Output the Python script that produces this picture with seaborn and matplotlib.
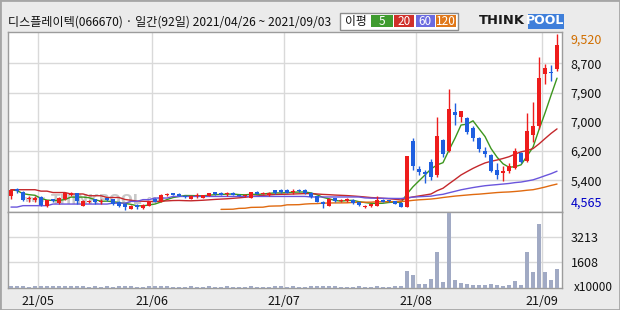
import numpy as np
import pandas as pd
import matplotlib
matplotlib.use("Agg")
import matplotlib.pyplot as plt
from matplotlib.patches import Rectangle
from matplotlib.transforms import blended_transform_factory
import seaborn as sns

sns.set_theme(style="white")
plt.rcParams['font.family'] = ['Noto Sans CJK KR', 'DejaVu Sans']
plt.rcParams['axes.unicode_minus'] = False

# ---------------- data ----------------
title = "디스플레이텍(066670) · 일간(92일) 2021/04/26 ~ 2021/09/03"
month_labels = ["21/05", "21/06", "21/07", "21/08", "21/09"]
month_first_day = [5, 24, 46, 68, 89]
ma_names = ["5", "20", "60", "120"]

opens = [
    4935, 5145, 5055, 4855, 4835, 4915, 4665, 4855, 4745, 4855,
    4985, 5025, 4675, 4765, 4855, 4785, 4885, 4855, 4785, 4715,
    4585, 4685, 4605, 4675, 4865, 4785, 4965, 5030, 5005, 4945,
    4875, 4945, 4895, 4955, 5055, 5045, 4995, 5035, 4985, 4935,
    4895, 5055, 5015, 4965, 5105, 5125, 5115, 5065, 5125, 5125,
    5045, 4935, 4785, 4675, 4895, 4805, 4795, 4845, 4775, 4635,
    4665, 4675, 4845, 4825, 4795, 4755, 4645, 6500, 5705, 5635,
    5905, 5540, 6530, 6220, 7320, 7185, 7140, 6870, 6585, 6225,
    6095, 5680, 5605, 5660, 5745, 6155, 5945, 6670, 6925, 8400,
    8445, 8525]
highs = [
    5135, 5175, 5085, 4935, 4935, 4955, 4845, 4875, 4915, 5065,
    5065, 5035, 4845, 4825, 4875, 4865, 4905, 4875, 4805, 4745,
    4705, 4715, 4715, 4815, 4895, 4995, 5025, 5045, 5025, 4965,
    4975, 5025, 4975, 5045, 5065, 5055, 5055, 5055, 5005, 5005,
    5065, 5075, 5065, 5055, 5125, 5145, 5135, 5155, 5145, 5135,
    5055, 4945, 4795, 4885, 4905, 4875, 4885, 4855, 4785, 4685,
    4735, 4955, 4865, 4845, 4815, 4775, 6090, 6595, 5795, 5675,
    6000, 7180, 6570, 7960, 7585, 7355, 7190, 6925, 6610, 6320,
    6140, 5870, 5795, 5870, 6310, 6190, 7295, 7600, 8880, 8675,
    8655, 9520]
lows = [
    4875, 5035, 4805, 4785, 4785, 4665, 4625, 4765, 4735, 4845,
    4945, 4725, 4665, 4745, 4725, 4735, 4815, 4705, 4645, 4565,
    4570, 4575, 4575, 4665, 4765, 4775, 4935, 4965, 4935, 4905,
    4865, 4905, 4885, 4945, 4985, 4975, 4945, 4965, 4935, 4925,
    4885, 4995, 4995, 4955, 5015, 5045, 5035, 5005, 5065, 5015,
    4905, 4765, 4615, 4665, 4785, 4775, 4785, 4735, 4665, 4615,
    4645, 4665, 4765, 4765, 4715, 4625, 4630, 5680, 5545, 5320,
    5400, 5475, 6055, 6190, 6955, 7045, 6700, 6500, 6190, 6040,
    5635, 5435, 5380, 5605, 5715, 5890, 5905, 6480, 6830, 8100,
    8195, 8475]
closes = [
    5125, 5075, 4845, 4895, 4900, 4695, 4825, 4795, 4895, 5035,
    5035, 4815, 4805, 4805, 4765, 4805, 4835, 4725, 4675, 4645,
    4675, 4645, 4705, 4805, 4775, 4965, 4985, 4985, 4955, 4915,
    4955, 4975, 4965, 5030, 5005, 4985, 5015, 4985, 4945, 4975,
    5055, 5005, 5035, 5045, 5030, 5055, 5045, 5095, 5075, 5035,
    4925, 4785, 4725, 4875, 4795, 4835, 4865, 4755, 4685, 4675,
    4725, 4845, 4785, 4795, 4735, 4645, 6075, 5795, 5625, 5565,
    5495, 6640, 6120, 7405, 7235, 7355, 6765, 6595, 6285, 6135,
    5660, 5550, 5655, 5795, 6220, 5915, 6785, 6915, 8280, 8555,
    8415, 9210]
# volume in units of 10000 shares
volumes = [
    75, 68, 82, 62, 66, 78, 70, 64, 67, 80,
    72, 77, 64, 60, 66, 61, 70, 63, 68, 75,
    66, 60, 62, 70, 64, 78, 67, 62, 58, 62,
    65, 60, 61, 68, 59, 57, 64, 60, 58, 62,
    71, 60, 59, 63, 66, 68, 61, 64, 60, 62,
    67, 73, 78, 70, 64, 60, 62, 60, 65, 61,
    59, 66, 63, 60, 72, 80, 1042, 781, 195, 195,
    521, 2279, 326, 4750, 456, 260, 195, 130, 130, 130,
    195, 130, 65, 130, 391, 130, 2279, 977, 4036, 977,
    456, 1172]
# moving-average values read where the window reaches before the shown period
ma20_head = [5125, 5125, 5125, 5125, 5125, 5085, 5085, 5045, 5045, 5045,
             5005, 5005, 5005, 4955, 4955, 4955, 4905, 4905, 4905]
ma60_head = [4635, 4635, 4675, 4675, 4675, 4675, 4675, 4720, 4720, 4720,
             4720, 4720, 4720, 4720, 4720, 4720, 4720, 4745, 4745, 4745,
             4795, 4795, 4845, 4845, 4890, 4890, 4890, 4935, 4935, 4935,
             4935, 4935, 4935, 4935, 4935, 4935, 4935, 4935, 4935, 4935,
             4935, 4935, 4935, 4935, 4935, 4935, 4935, 4935, 4935, 4935,
             4920, 4920, 4920, 4920, 4920, 4920, 4920, 4920, 4920]
ma120_start = 35
ma120_vals = [4570, 4572, 4575, 4598, 4602, 4626, 4629, 4632, 4660, 4665,
              4668, 4698, 4700, 4703, 4720, 4730, 4733, 4745, 4750, 4752,
              4753, 4755, 4765, 4770, 4772, 4774, 4785, 4787, 4788, 4789,
              4790, 4805, 4825, 4840, 4850, 4862, 4880, 4905, 4925, 4945,
              4960, 4975, 4990, 5000, 5015, 5030, 5045, 5055, 5062, 5075,
              5090, 5110, 5125, 5160, 5200, 5245, 5285]
vol_tick_vals = [1608, 3213]

# ---------------- derived ----------------
n = len(closes)
df = pd.DataFrame({"i": np.arange(n), "open": opens, "high": highs,
                   "low": lows, "close": closes, "volume": volumes})
df["ma5"] = df["close"].rolling(5, min_periods=1).mean()
ma20 = df["close"].rolling(20).mean().to_numpy()
ma20[:len(ma20_head)] = ma20_head
df["ma20"] = ma20
ma60 = df["close"].rolling(60).mean().to_numpy()
ma60[:len(ma60_head)] = ma60_head
df["ma60"] = ma60
df120 = pd.DataFrame({"i": np.arange(ma120_start, ma120_start + len(ma120_vals)),
                      "ma120": ma120_vals})

pmin, pmax = min(lows), max(highs)
step = (pmax - pmin) / 6.0
levels = [pmin + k * step for k in range(1, 6)]
level_labels = [f"{int(round(v / 100.0) * 100):,}" for v in levels]

RED = "#EE1C1C"
BLUE = "#1F5FE0"
VOLC = "#A1AAC4"
GRID = "#D9D9D9"
SPINE = "#9C9C9C"
BG = "#EBEBEB"
MA_COLORS = ["#3C961E", "#C4282C", "#6A55DC", "#E06A10"]
LEG_COLORS = ["#3F9B2F", "#D0302A", "#6B6BE0", "#E0781A"]

W, H = 620, 310
fig = plt.figure(figsize=(6.2, 3.1), dpi=100, facecolor=BG)

def fx(px):
    return px / W

def fy(py):
    return 1 - py / H

left_px, right_px = 7.5, 561.7
top_px, mid_px, bot_px = 31.7, 211.7, 287.5
ax = fig.add_axes([fx(left_px), fy(mid_px), fx(right_px - left_px), (mid_px - top_px) / H])
axv = fig.add_axes([fx(left_px), fy(bot_px), fx(right_px - left_px), (bot_px - mid_px) / H])

xlim = (-0.58, 91.78)

# ---------------- price panel ----------------
ax.set_facecolor("white")
pad_lo = 2.15 * (pmax - pmin) / 175.5
pad_hi = 2.35 * (pmax - pmin) / 175.5
ax.set_ylim(pmin - pad_lo, pmax + pad_hi)
ax.set_xlim(*xlim)

# watermark
ax.text(0.031, 0.045, "www.", transform=ax.transAxes, fontsize=5.5, color="#C6C6C6",
        fontweight="bold", family="DejaVu Sans", va="bottom", zorder=1)
ax.text(0.078, 0.025, "THINKPOOL", transform=ax.transAxes, fontsize=10, color="#C8C8C8",
        fontweight="bold", family="DejaVu Sans", va="bottom", zorder=1)
ax.text(0.246, 0.045, ".com", transform=ax.transAxes, fontsize=5.5, color="#C6C6C6",
        fontweight="bold", family="DejaVu Sans", va="bottom", zorder=1)

for col, c in zip(["ma5", "ma20", "ma60"], MA_COLORS[:3]):
    sns.lineplot(data=df, x="i", y=col, ax=ax, color=c, lw=1.0, zorder=2, legend=False)
sns.lineplot(data=df120, x="i", y="ma120", ax=ax, color=MA_COLORS[3], lw=1.0, zorder=2,
             legend=False)

up = df["close"] >= df["open"]
cols = np.where(up, RED, BLUE)
body_bottom = np.minimum(df["open"], df["close"])
body_h = np.maximum((df["close"] - df["open"]).abs(), 28)
ax.vlines(df["i"], df["low"], df["high"], colors=cols, lw=1.0, zorder=3)
ax.bar(df["i"], body_h, bottom=body_bottom, width=0.82, color=cols, lw=0, zorder=4)

ax.set_xticks([d - 0.5 for d in month_first_day])
ax.set_xticklabels([])
ax.yaxis.tick_right()
ax.set_yticks(levels)
ax.set_yticklabels(level_labels)
ax.tick_params(axis="y", length=0, pad=6.5, labelsize=9, labelcolor="#111111")
ax.tick_params(axis="x", length=0)
ax.grid(True, color=GRID, lw=1.0, zorder=0)
ax.set_axisbelow(True)
ax.set_xlabel("")
ax.set_ylabel("")
for s in ax.spines.values():
    s.set_color(SPINE)
    s.set_linewidth(1.0)

tr = blended_transform_factory(ax.transAxes, ax.transData)
ax.text(1.0165, pmax, f"{pmax:,}", transform=tr, ha="left", va="top", fontsize=9,
        color="#D06E00")
ax.text(1.0165, pmin, f"{pmin:,}", transform=tr, ha="left", va="bottom", fontsize=9,
        color="#0000C8")

# ---------------- volume panel ----------------
axv.set_facecolor("white")
sns.barplot(data=df, x="i", y="volume", ax=axv, native_scale=True, color=VOLC,
            width=0.8, errorbar=None, saturation=1, linewidth=0, zorder=3)
axv.set_xlim(*xlim)
axv.set_ylim(0, 4837)
axv.set_xticks([d - 0.5 for d in month_first_day])
axv.set_xticklabels(month_labels)
axv.tick_params(axis="x", length=0, pad=5.5, labelsize=9, labelcolor="#111111")
axv.yaxis.tick_right()
axv.set_yticks(vol_tick_vals)
axv.set_yticklabels([str(v) for v in vol_tick_vals])
axv.tick_params(axis="y", length=0, pad=6.5, labelsize=9, labelcolor="#111111")
axv.grid(True, color=GRID, lw=1.0, zorder=0)
axv.set_axisbelow(True)
axv.set_xlabel("")
axv.set_ylabel("")
for s in axv.spines.values():
    s.set_color(SPINE)
    s.set_linewidth(1.0)
trv = blended_transform_factory(axv.transAxes, axv.transData)
axv.text(1.022, 0, "x10000", transform=trv, ha="left", va="center", fontsize=8.5,
         color="#111111")

# ---------------- header ----------------
fig.text(fx(8), fy(22.5), title, ha="left", va="center", fontsize=8.7, color="#111111")

fig.patches.append(Rectangle((fx(340), fy(30)), fx(118), 17 / H, transform=fig.transFigure,
                             facecolor="white", edgecolor="#8C8C8C", lw=1.0))
fig.text(fx(355.5), fy(21.5), "이평", ha="center", va="center", fontsize=8.5, color="#111111")
box_edges = [(370.5, 392.6), (393.8, 414.4), (415.6, 435.0), (436.2, 456.2)]
for (x0, x1), lab, c in zip(box_edges, ma_names, LEG_COLORS):
    fig.patches.append(Rectangle((fx(x0), fy(27.3)), fx(x1 - x0), 12.3 / H,
                                 transform=fig.transFigure, facecolor=c, edgecolor="none"))
    fig.text(fx((x0 + x1) / 2), fy(21.3), lab, ha="center", va="center", fontsize=8.5,
             color="white")

# logo
fig.text(fx(479), fy(21), "THINK", ha="left", va="center", fontsize=9.4, fontweight="bold",
         family="DejaVu Sans", color="#1A1A1A")
fig.patches.append(Rectangle((fx(527.5), fy(28.5)), fx(36), 15 / H, transform=fig.transFigure,
                             facecolor="#3F7FDA", edgecolor="none"))
fig.text(fx(545.5), fy(21), "POOL", ha="center", va="center", fontsize=9, fontweight="bold",
         family="DejaVu Sans", color="white")

# outer frame
fig.patches.append(Rectangle((0, 0), 1, 1, transform=fig.transFigure, fill=False,
                             edgecolor="#A6A6A6", lw=2.0))

fig.savefig("out.png", dpi=100, facecolor=BG)
